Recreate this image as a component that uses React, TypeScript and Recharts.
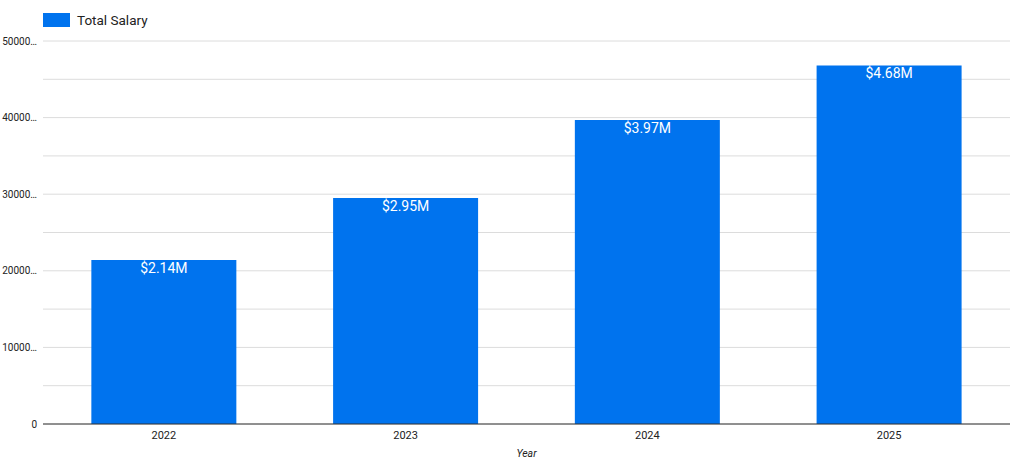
import React from 'react';
import { BarChart, Bar, XAxis, YAxis, CartesianGrid, Legend, LabelList } from 'recharts';

const years = ['2022', '2023', '2024', '2025'];
const totalSalary = [2140000, 2950000, 3970000, 4680000];
const yTicks = [0, 500000, 1000000, 1500000, 2000000, 2500000, 3000000, 3500000, 4000000, 4500000, 5000000];
const seriesName = 'Total Salary';
const xLabel = 'Year';

const data = years.map((y, i) => ({ year: y, value: totalSalary[i] }));

const BLUE = '#0073EE';
const FONT = 'Roboto, "Noto Sans", sans-serif';

const yFmt = (v: number) => {
  if (v % 1000000 !== 0) return '';
  const s = String(v);
  return s.length > 6 ? s.slice(0, 5) + '…' : s;
};

const LegendContent = () => (
  <div style={{ display: 'flex', alignItems: 'center', fontFamily: FONT, fontSize: 13.5, color: '#222' }}>
    <span style={{ display: 'inline-block', width: 27, height: 14, background: BLUE, marginRight: 7 }} />
    <span>{seriesName}</span>
  </div>
);

export default function App() {
  return (
    <div style={{ position: 'absolute', left: 0, top: 0, width: 1023, height: 460, background: '#fff' }}>
      <BarChart
        width={1023}
        height={460}
        data={data}
        margin={{ top: 23, right: 13, bottom: 0, left: 0 }}
        barCategoryGap="20%"
      >
        <Legend
          verticalAlign="top"
          align="left"
          content={<LegendContent />}
          wrapperStyle={{ position: 'absolute', top: 12, left: 43, width: 'auto', height: 18 }}
        />
        <CartesianGrid vertical={false} stroke="#dcdcdc" strokeWidth={1} />
        <XAxis
          dataKey="year"
          height={36}
          axisLine={{ stroke: '#333', strokeWidth: 1 }}
          tickLine={false}
          tick={{ fill: '#222', fontSize: 11, fontFamily: FONT }}
          tickMargin={1}
          label={{ value: xLabel, position: 'insideBottom', offset: 3, fill: '#222', fontSize: 10.5, fontStyle: 'italic', fontFamily: FONT }}
        />
        <YAxis
          width={43}
          domain={[0, 5000000]}
          ticks={yTicks}
          interval={0}
          axisLine={false}
          tickLine={false}
          tickFormatter={yFmt}
          tick={{ fill: '#222', fontSize: 10, fontFamily: FONT }}
          tickMargin={0}
        />
        <Bar dataKey="value" name={seriesName} fill={BLUE} isAnimationActive={false}>
          <LabelList
            dataKey="value"
            position="insideTop"
            offset={3}
            fill="#fff"
            fontSize={14}
            fontFamily={FONT}
            formatter={(v: number) => `$${(v / 1000000).toFixed(2)}M`}
          />
        </Bar>
      </BarChart>
    </div>
  );
}
